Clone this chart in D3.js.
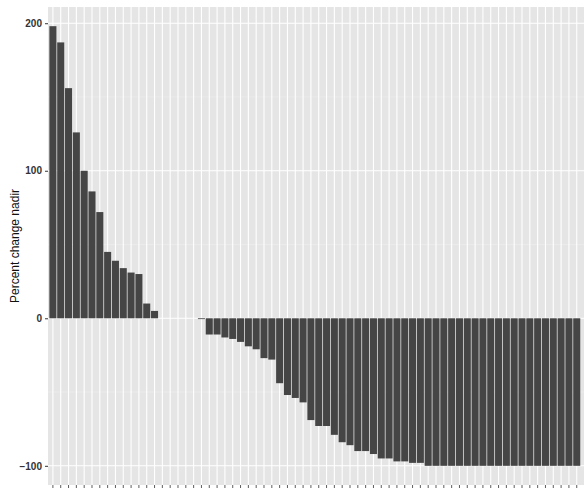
<!DOCTYPE html>
<html>
<head>
<meta charset="utf-8">
<script src="https://cdn.jsdelivr.net/npm/d3@7"></script>
<style>
  body { margin: 0; background: #fff; }
  text { font-family: "Liberation Sans", Arial, sans-serif; }
</style>
</head>
<body>
<svg id="chart" width="584" height="488"></svg>
<script>
// percent change at nadir, one value per patient, sorted high to low
var changes = [198, 187, 156, 126, 100, 86, 72, 45, 39, 34, 31, 30, 10, 5,
  0, 0, 0, 0, 0, -0.5,
  -11, -11, -13, -14, -16, -19, -21, -27, -28,
  -44, -52, -54, -57, -69, -73, -73, -79, -84, -86, -90, -90, -92, -95, -95, -97, -97, -98, -98,
  -100, -100, -100, -100, -100, -100, -100, -100, -100, -100,
  -100, -100, -100, -100, -100, -100, -100, -100, -100, -100];
var yTicks = [-100, 0, 100, 200];
var yMinor = [-50, 50, 150];
var patients = changes.map((d, i) => i);

var svg = d3.select("#chart");
var panelL = 48, panelR = 584, panelT = 7, panelB = 485;

// panel extends past the right edge of the picture
var step = 7.83;
var x0 = panelL + 0.6;
var x = d3.scaleBand()
  .domain(patients)
  .range([x0, x0 + step * patients.length])
  .padding(0.1);
var y = d3.scaleLinear().domain([-113, 211]).range([panelB, panelT]);

svg.append("rect").attr("x", panelL).attr("y", panelT)
  .attr("width", panelR - panelL).attr("height", panelB - panelT).attr("fill", "#e5e5e5");

// minor and major horizontal grid
svg.selectAll(".minor").data(yMinor).enter().append("line")
  .attr("x1", panelL).attr("x2", panelR)
  .attr("y1", d => y(d)).attr("y2", d => y(d))
  .attr("stroke", "#f0f0f0").attr("stroke-width", 0.6);
svg.selectAll(".major").data(yTicks).enter().append("line")
  .attr("x1", panelL).attr("x2", panelR)
  .attr("y1", d => y(d)).attr("y2", d => y(d))
  .attr("stroke", "#fff").attr("stroke-width", 1.1);
// vertical grid, one per patient
svg.selectAll(".vgrid").data(patients).enter().append("line")
  .attr("x1", d => x(d) + x.bandwidth() / 2).attr("x2", d => x(d) + x.bandwidth() / 2)
  .attr("y1", panelT).attr("y2", panelB)
  .attr("stroke", "#fff").attr("stroke-width", 1.1);

svg.selectAll(".bar").data(changes.filter(d => d !== 0).length ? changes : []).enter().append("rect")
  .attr("x", (d, i) => x(i))
  .attr("width", x.bandwidth())
  .attr("y", d => y(Math.max(0, d)))
  .attr("height", d => d === 0 ? 0 : Math.max(0.8, Math.abs(y(d) - y(0))))
  .attr("fill", "#454545");

// y axis
var yAxis = svg.append("g").attr("transform", "translate(" + panelL + ",0)")
  .call(d3.axisLeft(y).tickValues(yTicks).tickSize(3).tickPadding(3));
yAxis.select(".domain").remove();
yAxis.selectAll("line").attr("stroke", "#333");
yAxis.selectAll("text").attr("font-size", 10).attr("fill", "#333").attr("font-weight", "bold");

// x ticks without labels
svg.selectAll(".xtick").data(patients).enter().append("line")
  .attr("x1", d => x(d) + x.bandwidth() / 2).attr("x2", d => x(d) + x.bandwidth() / 2)
  .attr("y1", panelB).attr("y2", panelB + 3)
  .attr("stroke", "#333").attr("stroke-width", 0.8);

svg.append("text")
  .attr("transform", "translate(19," + ((panelT + panelB) / 2) + ") rotate(-90)")
  .attr("text-anchor", "middle")
  .attr("font-size", 12).attr("fill", "#111")
  .text("Percent change nadir");
</script>
</body>
</html>
